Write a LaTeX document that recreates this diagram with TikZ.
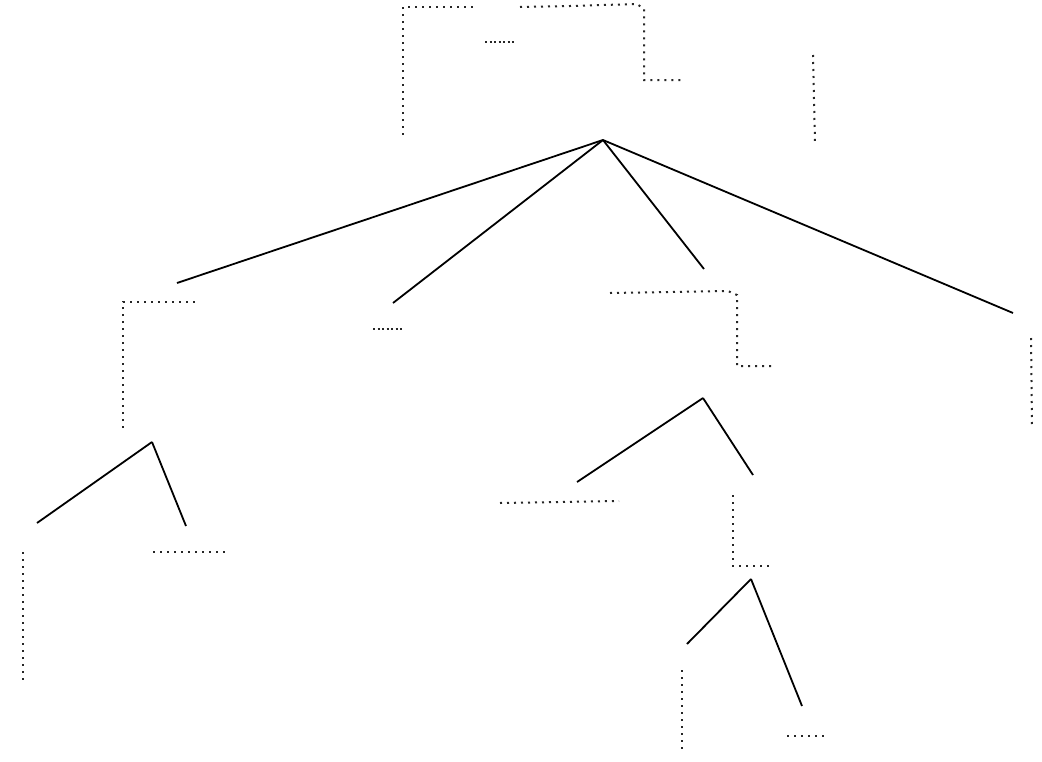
\documentclass[tikz,border=0pt]{standalone}
\begin{document}
\begin{tikzpicture}[x=1pt,y=-1pt,
  edge/.style={line width=1.8pt,black},
  dots/.style={line width=2pt,black!85,dash pattern=on 2pt off 5pt},
  fine/.style={line width=2pt,black!85,dash pattern=on 2pt off 2.5pt}]
\useasboundingbox (0,0) rectangle (1042,761);
% anchor points of the tree
\coordinate (r) at (603,140);
\coordinate (a) at (177,283);
\coordinate (b) at (393,303);
\coordinate (c) at (704,269);
\coordinate (d) at (1013,313);
\coordinate (a0) at (152,442);
\coordinate (a1) at (37,523);
\coordinate (a2) at (186,526);
\coordinate (c0) at (703,398);
\coordinate (c1) at (577,482);
\coordinate (c2) at (753,475);
\coordinate (e0) at (751,579);
\coordinate (e1) at (687,644);
\coordinate (e2) at (802,706);
% edges
\draw[edge] (r) -- (a);
\draw[edge] (r) -- (b);
\draw[edge] (r) -- (c);
\draw[edge] (r) -- (d);
\draw[edge] (a0) -- (a1);
\draw[edge] (a0) -- (a2);
\draw[edge] (c0) -- (c1);
\draw[edge] (c0) -- (c2);
\draw[edge] (e0) -- (e1);
\draw[edge] (e0) -- (e2);
% dotted marks (top)
\draw[dots] (403,135) -- (403,7) -- (476,7);
\draw[dots] (520,7) -- (570,6) -- (637,4) -- (644,9) -- (644,80) -- (684,80);
\draw[fine] (485,42) -- (514,42);
\draw[dots] (813,55) -- (815,143);
% level 1
\draw[dots] (123,428) -- (123,302) -- (196,302);
\draw[fine] (373,329) -- (404,329);
\draw[dots] (610,293) -- (728,291) -- (737,295) -- (737,366) -- (776,366);
\draw[dots] (1031,338) -- (1032,425);
% level 2
\draw[dots] (23,552) -- (23,682);
\draw[dots] (153,552) -- (225,552);
\draw[dots] (500,503) -- (619,501);
\draw[dots] (733,495) -- (733,566) -- (773,566);
% level 3
\draw[dots] (682,670) -- (682,752);
\draw[dots] (787,736) -- (828,736);
\end{tikzpicture}
\end{document}
